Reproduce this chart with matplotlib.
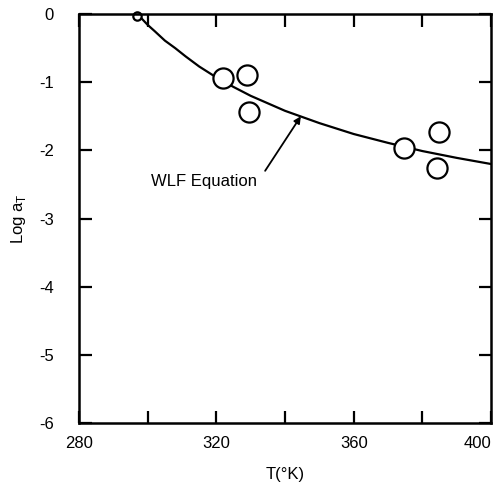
import matplotlib
matplotlib.use("Agg")
import matplotlib.pyplot as plt

plt.rcParams['font.family'] = ['Liberation Sans', 'DejaVu Sans']

# measured points (large circles)
temp = [322, 329, 329.5, 374.7, 384.7, 384.4]
log_at = [-0.94, -0.89, -1.44, -1.97, -1.73, -2.26]

# reference point (small circle)
ref_temp = [297]
ref_log_at = [-0.03]

# WLF curve
wlf_temp = [297, 300, 302, 305, 308, 311, 315, 320, 325, 330, 335, 340,
            345, 350, 360, 370, 380, 390, 400]
wlf_log_at = [0.0, -0.16, -0.25, -0.39, -0.5, -0.62, -0.77, -0.93, -1.07,
              -1.2, -1.31, -1.42, -1.51, -1.6, -1.76, -1.89, -2.01, -2.11, -2.2]

xticks = [280, 300, 320, 340, 360, 380, 400]
xticklabels = ['280', '', '320', '', '360', '', '400']
yticks = [0, -1, -2, -3, -4, -5, -6]

fig = plt.figure(figsize=(4.97, 4.83), dpi=100)
ax = fig.add_axes([0.159, 0.124, 0.829, 0.847])

ax.plot(wlf_temp, wlf_log_at, color='black', lw=1.6)
ax.plot(temp, log_at, 'o', mfc='white', mec='black', ms=14.5, mew=1.6)
ax.plot(ref_temp, ref_log_at, 'o', mfc='white', mec='black', ms=6, mew=1.6,
        clip_on=False)

ax.text(331.8, -2.46, 'WLF Equation', ha='right', va='center', fontsize=12)
ax.annotate('', xy=(344.6, -1.5), xytext=(334.2, -2.3),
            arrowprops=dict(arrowstyle='-|>', color='black', lw=1.3,
                            shrinkA=0, shrinkB=0, mutation_scale=10))

ax.set_xlim(280, 400)
ax.set_ylim(-6, 0)
ax.set_xticks(xticks)
ax.set_xticklabels(xticklabels)
ax.get_xticklabels()[-1].set_ha('right')
ax.set_yticks(yticks)
ax.set_yticklabels([str(v) for v in yticks])
ax.tick_params(direction='in', length=9, width=1.6, labelsize=12,
               top=True, right=True)
ax.tick_params(axis='y', pad=18)
ax.tick_params(axis='x', pad=9)
for s in ax.spines.values():
    s.set_linewidth(1.8)

ax.set_xlabel('T(°K)', fontsize=12, labelpad=12)
ax.set_ylabel('Log a$_\\mathregular{T}$', fontsize=12, labelpad=8)

fig.savefig('out.png', dpi=100)
